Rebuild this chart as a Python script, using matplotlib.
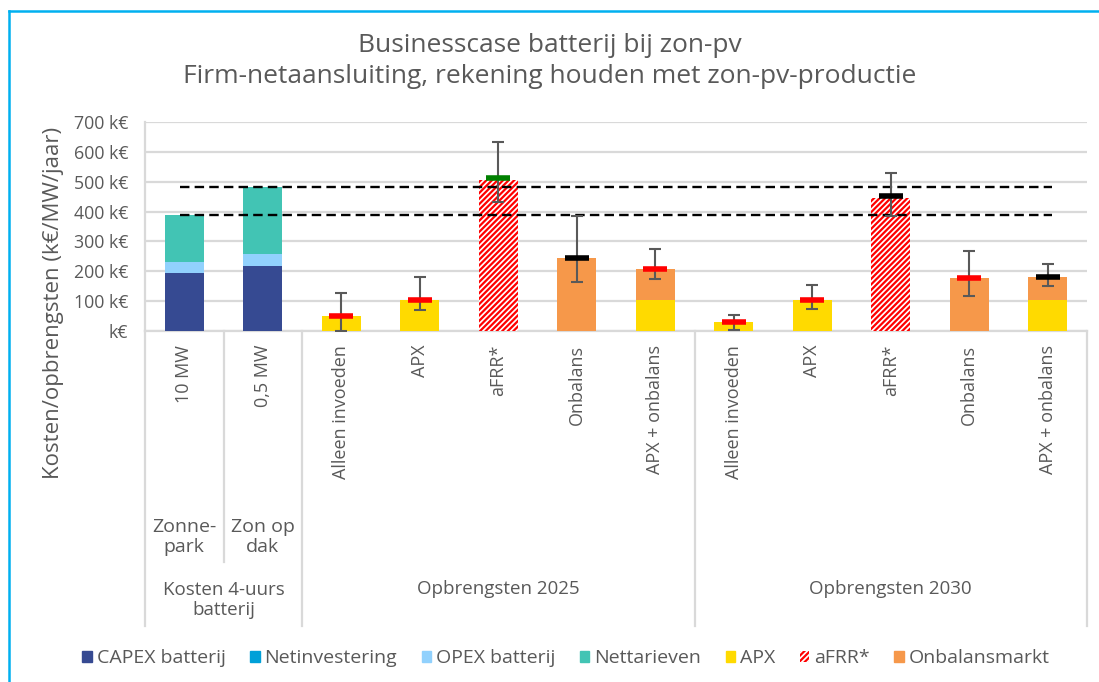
import matplotlib

matplotlib.use("Agg")
import matplotlib.pyplot as plt
import matplotlib.transforms as mtransforms
from matplotlib.patches import Patch

plt.rcParams["font.family"] = ["Open Sans", "DejaVu Sans"]
plt.rcParams["hatch.linewidth"] = 1.6

# --- data (k€/MW/jaar) ---
categories = [
    "10 MW", "0,5 MW",
    "Alleen invoeden", "APX", "aFRR*", "Onbalans", "APX + onbalans",
    "Alleen invoeden", "APX", "aFRR*", "Onbalans", "APX + onbalans",
]
sub_labels = ["Zonne-\npark", "Zon op\ndak"]
group_labels = ["Kosten 4-uurs\nbatterij", "Opbrengsten 2025", "Opbrengsten 2030"]
group_sizes = [2, 5, 5]

# cost bars (first two categories)
capex = [195, 218]
netinvestering = [0, 0]
opex = [35, 40]
nettarieven = [158, 223]

# revenue bars (remaining ten categories)
apx = [50, 103, 0, 0, 103, 30, 103, 0, 0, 103]
afrr = [0, 0, 505, 0, 0, 0, 0, 447, 0, 0]
onbalans = [0, 0, 0, 246, 105, 0, 0, 0, 178, 79]

# central estimate + range per revenue bar
marker_val = [50, 103, 511, 246, 208, 30, 103, 451, 178, 182]
marker_col = ["red", "red", "green", "black", "red", "red", "red", "black", "red", "black"]
err_low = [0, 69, 432, 163, 174, 5, 73, 386, 118, 152]
err_high = [126, 180, 632, 386, 274, 55, 153, 528, 269, 225]

# total cost levels (dashed reference lines)
cost_levels = [388, 481]

C_CAPEX = "#364a92"
C_NETINV = "#00a0d8"
C_OPEX = "#91d1fd"
C_TARIEF = "#42c4b4"
C_APX = "#ffda00"
C_AFRR = "#ff0000"
C_ONB = "#f6984a"
GRAY = "#595959"
GRID = "#d9d9d9"

W, H = 1099, 682
fig = plt.figure(figsize=(W / 100, H / 100), dpi=100)

# blue frame lines (top + left only)
fig.add_artist(plt.Line2D([9 / W, 1], [1 - 11 / H] * 2, color="#00b0f0", lw=1.8))
fig.add_artist(plt.Line2D([9 / W] * 2, [0, 1 - 11 / H], color="#00b0f0", lw=1.8))

ax = fig.add_axes([145 / W, 1 - 331 / H, 942 / W, 209 / H])

cost_x = [0, 1]
rev_x = list(range(2, 12))
bw = 0.5

b = [0, 0]
for vals, col in [(capex, C_CAPEX), (netinvestering, C_NETINV), (opex, C_OPEX), (nettarieven, C_TARIEF)]:
    ax.bar(cost_x, vals, bw, bottom=b, color=col, zorder=3)
    b = [p + q for p, q in zip(b, vals)]

ax.bar(rev_x, apx, bw, color=C_APX, zorder=3)
ax.bar(rev_x, afrr, bw, color="white", edgecolor=C_AFRR, hatch="//////", lw=0, zorder=3)
ax.bar(rev_x, onbalans, bw, bottom=apx, color=C_ONB, zorder=3)

for lvl in cost_levels:
    ax.plot([-0.05, 11.05], [lvl, lvl], color="black", lw=1.7, dashes=(4, 2.2), zorder=4)

yerr = [[m - lo for m, lo in zip(marker_val, err_low)],
        [hi - m for m, hi in zip(marker_val, err_high)]]
ax.errorbar(rev_x, marker_val, yerr=yerr, fmt="none", ecolor=GRAY, elinewidth=1.5,
            capsize=4, capthick=1.5, zorder=5)
ax.scatter(rev_x, marker_val, marker="_", s=290, linewidths=4, c=marker_col, zorder=6)

ax.set_xlim(-0.5, 11.5)
ax.set_ylim(0, 700)
ax.set_yticks(range(0, 701, 100))
ax.set_yticklabels(["k€"] + [f"{v} k€" for v in range(100, 701, 100)])
ax.yaxis.grid(True, color=GRID, lw=1.6, zorder=0)
ax.set_axisbelow(True)
ax.tick_params(axis="y", length=0, pad=12, labelsize=12.8, labelcolor=GRAY)
ax.set_xticks(range(12))
ax.set_xticklabels(categories, rotation=90, va="top")
ax.tick_params(axis="x", length=0, pad=10, labelsize=13, labelcolor=GRAY)
for s in ["top", "right"]:
    ax.spines[s].set_visible(False)
for s in ["left", "bottom"]:
    ax.spines[s].set_color(GRID)
    ax.spines[s].set_linewidth(1.6)

# category axis separators and labels
tr = mtransforms.blended_transform_factory(ax.transData, fig.transFigure)
y_axis = 1 - 331 / H
edges = [-0.5]
for n in group_sizes:
    edges.append(edges[-1] + n)
for e in edges:
    ax.plot([e, e], [y_axis, 1 - 626 / H], transform=tr, color=GRID, lw=1.6, clip_on=False)
ax.plot([0.5, 0.5], [y_axis, 1 - 562 / H], transform=tr, color=GRID, lw=1.6, clip_on=False)

for i, lab in enumerate(sub_labels):
    ax.text(i, 1 - 537 / H, lab, transform=tr, ha="center", va="center",
            fontsize=14, color=GRAY, linespacing=1.1)
for i, lab in enumerate(group_labels):
    ax.text((edges[i] + edges[i + 1]) / 2, 1 - 600 / H if "\n" in lab else 1 - 589 / H, lab,
            transform=tr, ha="center", va="center", fontsize=13.5, color=GRAY, linespacing=1.1)

# titles
fig.text(0.5, 1 - 61 / H, "Businesscase batterij bij zon-pv\nFirm-netaansluiting, rekening houden met zon-pv-productie",
         ha="center", va="center", fontsize=19, color=GRAY, linespacing=1.35)
fig.text(54 / W, 1 - 303 / H, "Kosten/opbrengsten (k€/MW/jaar)", rotation=90,
         ha="center", va="center", fontsize=16, color=GRAY)

handles = [
    Patch(color=C_CAPEX, label="CAPEX batterij"),
    Patch(color=C_NETINV, label="Netinvestering"),
    Patch(color=C_OPEX, label="OPEX batterij"),
    Patch(color=C_TARIEF, label="Nettarieven"),
    Patch(color=C_APX, label="APX"),
    Patch(facecolor="white", edgecolor=C_AFRR, hatch="//////", lw=0, label="aFRR*"),
    Patch(color=C_ONB, label="Onbalansmarkt"),
]
fig.legend(handles=handles, loc="center", bbox_to_anchor=(566 / W, 1 - 658 / H), ncol=7,
           frameon=False, fontsize=14, labelcolor=GRAY, handlelength=0.5, handleheight=0.5,
           handletextpad=0.25, columnspacing=1.25)

fig.savefig("out.png", dpi=100)
